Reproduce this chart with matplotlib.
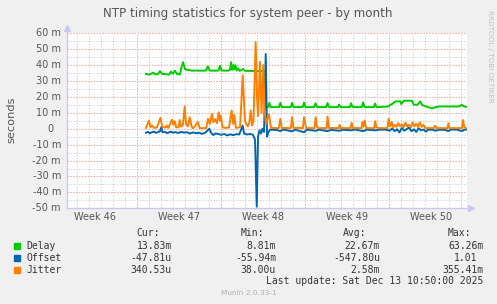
import matplotlib
matplotlib.use('Agg')
import matplotlib.pyplot as plt
from matplotlib.patches import Rectangle
from matplotlib.transforms import blended_transform_factory, offset_copy

W, H = 497, 304

# time in days since start of the 33 day window, values in milliseconds (m)
delay_t = [6.58, 6.83, 7.0, 7.17, 7.33, 7.58, 7.75, 7.92, 8.25, 8.5, 8.67, 8.83, 9.0, 9.17, 9.42,
           9.5, 9.67, 9.83, 10.08, 10.42, 10.75, 11.08, 11.58, 11.73, 11.88, 12.33, 12.63, 12.75, 12.88,
           13.42, 13.58, 13.67, 13.77, 13.86, 13.94, 14.03, 14.13, 14.27, 14.38, 14.69, 14.83, 15.67, 16.42,
           16.5, 16.75, 16.86, 16.96, 17.67, 17.78, 17.9, 18.65, 18.75, 18.87, 19.65, 19.75, 19.87,
           20.6, 20.71, 20.83, 21.6, 21.71, 21.83, 22.57, 22.67, 22.79, 23.57, 23.67, 23.79,
           24.57, 24.67, 24.79, 25.57, 25.67, 25.79,
           26.81, 26.92, 27.08, 27.36, 27.78, 27.86, 28.06, 28.75, 28.89, 29.17, 29.44, 29.58, 29.83,
           30.42, 30.67, 31.08, 31.92, 32.67, 32.92, 33.08, 33.25]
delay_v = [34.5, 34.0, 34.5, 35.3, 34.2, 34.3, 36.2, 34.5, 34.3, 34.0, 36.0, 34.5, 36.5, 34.3, 34.2,
           37.5, 41.9, 37.5, 37.0, 36.5, 36.6, 36.5, 36.6, 39.2, 36.6, 36.5, 36.6, 39.6, 36.6,
           36.5, 37.0, 41.9, 37.0, 40.0, 37.5, 40.0, 36.6, 38.0, 36.4, 37.5, 36.4, 36.3, 36.2,
           13.8, 13.6, 16.3, 13.6, 13.6, 16.3, 13.6, 13.6, 16.3, 13.6, 13.7, 16.5, 13.6,
           13.6, 16.0, 13.7, 13.6, 16.2, 13.6, 13.6, 15.2, 13.6, 13.6, 16.0, 13.7,
           13.6, 16.6, 13.6, 13.6, 15.8, 13.6,
           14.0, 15.0, 15.5, 17.2, 17.2, 15.5, 17.6, 17.6, 15.2, 15.0, 17.2, 15.0, 14.2,
           12.8, 13.5, 14.0, 14.0, 14.0, 15.0, 14.0, 13.8]

offset_t = [6.58, 6.75, 6.9, 7.08, 7.25, 7.42, 7.58, 7.75, 7.86, 7.95, 8.17, 8.33, 8.5, 8.67, 8.83,
            9.0, 9.25, 9.5, 9.75, 10.0, 10.25, 10.5, 10.75, 11.0, 11.25, 11.5, 11.72, 11.86, 12.0,
            12.19, 12.35, 12.6, 12.85, 13.1, 13.35, 13.6, 13.85, 14.1, 14.35, 14.64, 14.75, 15.0,
            15.25, 15.5, 15.67, 15.81, 15.92, 16.04, 16.17, 16.29, 16.42, 16.56, 16.67, 16.79, 16.92,
            17.5, 17.78, 18.0, 18.75, 19.0, 19.75, 20.0, 20.71, 21.0, 21.71, 22.0, 22.67, 23.0,
            23.67, 24.0, 24.67, 25.0, 25.67, 26.0, 26.5, 26.9, 27.1, 27.3, 27.5, 27.7, 27.9, 28.1,
            28.3, 28.5, 28.7, 28.9, 29.1, 29.3, 29.5, 29.7, 29.9, 30.1, 30.5, 30.67, 31.0, 31.5,
            31.75, 32.0, 32.5, 32.92, 33.1, 33.25]
offset_v = [-2.5, -2.0, -2.8, -2.2, -1.8, -2.6, -2.1, -1.5, 1.0, -2.2, -2.0, -2.8, -2.3, -1.8, -2.5,
            -2.1, -2.6, -2.0, -2.4, -2.2, -3.0, -2.3, -2.8, -2.5, -3.2, -2.6, -1.0, 0.0, -2.5,
            -4.0, -3.0, -3.3, -3.8, -3.3, -4.2, -3.5, -4.0, -3.4, -3.6, 2.0, -3.0, -3.6,
            -3.3, -3.8, -7.0, -49.0, -5.0, -1.0, -3.0, 0.0, -2.0, 47.0, -5.0, -2.0, -0.6,
            -0.8, -1.5, -0.5, -1.6, -0.6, -2.2, -0.6, -1.3, -0.6, -1.5, -0.7, -1.3, -0.6,
            -1.0, -0.5, -1.5, -0.6, -1.0, -0.6, -0.5, -1.2, 0.2, -1.5, -0.3, -2.3, 0.5, -1.2,
            -0.2, 0.8, -1.5, -0.4, -2.0, 0.3, -1.0, -0.5, -1.8, -0.6, -0.6, -1.3, -0.6, -0.7,
            -1.5, -0.5, -0.6, -1.5, -0.6, -0.5]

jitter_t = [6.58, 6.83, 6.95, 7.1, 7.25, 7.5, 7.78, 7.95, 8.2, 8.3, 8.45, 8.75, 8.85, 8.97, 9.1,
            9.3, 9.39, 9.5, 9.65, 9.81, 9.92, 10.08, 10.22, 10.4, 10.5, 10.75, 10.9, 11.05, 11.3,
            11.6, 11.75, 11.9, 12.08, 12.2, 12.35, 12.5, 12.64, 12.75, 12.83, 12.95, 13.2, 13.5,
            13.72, 13.85, 13.94, 14.08, 14.42, 14.64, 14.83, 14.92, 15.08, 15.19, 15.31, 15.42,
            15.54, 15.72, 15.83, 15.92, 16.08, 16.21, 16.36, 16.46, 16.58, 16.83, 17.0,
            17.65, 17.78, 17.9, 18.65, 18.75, 18.87, 19.65, 19.75, 19.85, 19.95, 20.62, 20.72,
            20.82, 20.92, 21.62, 21.71, 21.83, 22.62, 22.72, 22.82, 23.62, 23.72, 23.82, 24.55,
            24.62, 24.7, 24.8, 24.92, 25.6, 25.67, 25.78, 26.0, 26.7, 26.8, 26.92, 27.06, 27.15,
            27.3, 27.45, 27.6, 27.75, 27.9, 28.05, 28.2, 28.35, 28.5, 28.65, 28.8, 28.95, 29.1,
            29.25, 29.4, 29.55, 29.7, 29.85, 30.55, 30.67, 30.8, 31.7, 31.78, 31.88, 32.9, 33.0,
            33.1, 33.25]
jitter_v = [0.5, 5.2, 1.0, 2.0, 0.5, 0.8, 6.9, 1.0, 0.8, 2.0, 0.5, 5.7, 2.5, 4.7, 1.0,
            0.8, 5.5, 1.5, 2.0, 14.0, 3.0, 1.5, 7.3, 1.0, 0.3, 2.5, 4.2, 0.5, 0.3,
            0.5, 6.3, 3.0, 9.4, 4.0, 6.0, 3.5, 10.4, 5.0, 8.0, 1.0, 0.5, 0.8,
            11.5, 3.0, 8.6, 0.5, 1.0, 33.5, 5.0, 3.0, 1.5, 4.0, 11.5, 2.0,
            5.0, 54.5, 20.0, 8.0, 42.0, 10.0, 40.0, 12.0, 3.0, 9.0, 0.5,
            0.4, 6.3, 0.5, 0.4, 7.3, 0.6, 0.4, 7.3, 3.0, 0.4, 0.4, 7.3,
            1.5, 0.4, 0.4, 7.7, 0.5, 0.4, 2.5, 0.4, 0.4, 3.8, 0.4, 0.4,
            4.2, 1.5, 5.2, 0.4, 0.4, 4.8, 1.0, 0.4, 0.4, 6.3, 1.5, 4.2, 1.0,
            2.5, 1.2, 3.5, 1.5, 2.8, 1.0, 3.8, 1.5, 2.5, 1.0, 4.0, 1.5, 3.2,
            1.0, 4.0, 1.2, 2.5, 0.4, 0.4, 2.0, 0.4, 0.4, 3.5, 0.4, 0.4, 5.5,
            1.0, 0.4]

y_ticks = [-50, -40, -30, -20, -10, 0, 10, 20, 30, 40, 50, 60]
y_labels = ['-50 m', '-40 m', '-30 m', '-20 m', '-10 m', '0', '10 m', '20 m', '30 m', '40 m', '50 m', '60 m']
week_pos = [2.3, 9.3, 16.3, 23.3, 30.3]
week_labels = ['Week 46', 'Week 47', 'Week 48', 'Week 49', 'Week 50']
week_lines = [5.8, 12.8, 19.8, 26.8]

names = ['Delay', 'Offset', 'Jitter']
colors = ['#00CC00', '#0066B3', '#FF8000']
cur = ['13.83m', '-47.81u', '340.53u']
mins = ['8.81m', '-55.94m', '38.00u']
avgs = ['22.67m', '-547.80u', '2.58m']
maxs = ['63.26m', '1.01', '355.41m']

fig = plt.figure(figsize=(W / 100, H / 100), dpi=100, facecolor='#F0F0F0')
ax = fig.add_axes([67 / W, 1 - 208.3 / H, 400 / W, 175 / H])
ax.set_facecolor('white')
ax.set_xlim(0, 33.33)
ax.set_ylim(-50, 60)

# grid, rrdtool style
dot = (0, (1.5, 1.5))
for k in range(34):
    d = 0.8 + k
    if any(abs(d - w) < 0.01 for w in week_lines):
        continue
    ax.axvline(d, color='#d4d4d4', lw=0.7, ls=dot, zorder=0)
for w in week_lines:
    ax.axvline(w, color='#f4a0a0', lw=0.7, ls=dot, zorder=0)
for v in range(-45, 60, 10):
    ax.axhline(v, color='#d4d4d4', lw=0.7, ls=dot, zorder=0)
for v in y_ticks:
    ax.axhline(v, color='#f4a0a0', lw=0.7, ls=dot, zorder=0)

ax.plot(delay_t, delay_v, color=colors[0], lw=1.4)
ax.plot(offset_t, offset_v, color=colors[1], lw=1.4)
ax.plot(jitter_t, jitter_v, color=colors[2], lw=1.4)

for s in ax.spines.values():
    s.set_visible(False)
ax.plot([0, 1.01], [0, 0], transform=ax.transAxes, color='#c8c8f0', lw=1, clip_on=False)
ax.plot([0, 0], [0, 1.03], transform=ax.transAxes, color='#c8c8f0', lw=1, clip_on=False)
ax.plot([1.01], [0], transform=ax.transAxes, marker='>', ms=4, color='#c8c8f0', clip_on=False)
ax.plot([0], [1.03], transform=ax.transAxes, marker='^', ms=4, color='#c8c8f0', clip_on=False)

ax.set_yticks([])
ax.set_xticks(week_pos)
ax.set_xticklabels(week_labels)
ax.tick_params(axis='x', length=0, labelsize=7, colors='#555555', pad=2.5)

trans = blended_transform_factory(ax.transAxes, ax.transData)
for v, lab in zip(y_ticks, y_labels):
    dx = -13.7 if lab == '0' else -6
    ax.text(0, v, lab, transform=offset_copy(trans, fig=fig, x=dx, units='dots'),
            ha='right', va='center', fontsize=7, color='#555555')

def px(x, y, s, **kw):
    fig.text(x / W, 1 - y / H, s, **kw)

px(248, 13.5, 'NTP timing statistics for system peer - by month', ha='center', va='center',
   fontsize=8.6, color='#555555')
px(11, 120, 'seconds', rotation=90, ha='center', va='center', fontsize=8.2, color='#555555')
px(490, 56.5, 'RRDTOOL / TOBI OETIKER', rotation=270, ha='center', va='center',
   fontsize=5.2, color='#c0c0c0')

mono = dict(family='DejaVu Sans Mono', fontsize=7, color='#333333', va='center')
px(136.7, 233.3, 'Cur:', ha='left', **mono)
px(240.7, 233.3, 'Min:', ha='left', **mono)
px(343.3, 233.3, 'Avg:', ha='left', **mono)
px(447.7, 233.3, 'Max:', ha='left', **mono)
rows = [245.7, 257.7, 269.7]
for i in range(3):
    y = rows[i]
    fig.add_artist(Rectangle((14 / W, 1 - (y + 3) / H), 6 / W, 6 / H,
                             transform=fig.transFigure, color=colors[i]))
    px(26.7, y, names[i], ha='left', **mono)
    px(171.7, y, cur[i], ha='right', **mono)
    px(276, y, mins[i], ha='right', **mono)
    px(380, y, avgs[i], ha='right', **mono)
    px(483.3 if maxs[i] != '1.01' else 477, y, maxs[i], ha='right', **mono)
px(483.3, 281.3, 'Last update: Sat Dec 13 10:50:00 2025', ha='right', **mono)
px(248.7, 293.3, 'Munin 2.0.33-1', ha='center', va='center', fontsize=5.3, color='#b0b0b0')

plt.savefig('out.png', dpi=100, facecolor=fig.get_facecolor())
